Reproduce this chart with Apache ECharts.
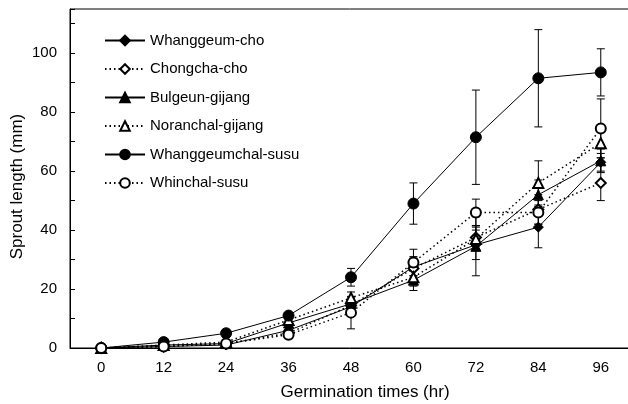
<!DOCTYPE html>
<html>
<head>
<meta charset="utf-8">
<script src="https://cdn.jsdelivr.net/npm/echarts@6/dist/echarts.min.js"></script>
<style>
  html, body { margin: 0; padding: 0; background: #fff; }
  #chart { width: 628px; height: 404px; }
</style>
</head>
<body>
<div id="chart"></div>
<script>
// germination times (hr)
const hours = ['0', '12', '24', '36', '48', '60', '72', '84', '96'];

// sprout length (mm)
const whanggeumCho = [0, 0.5, 1, 6, 14, 27.5, 35, 41, 63];
const chongchaCho = [0, 0.5, 1.5, 5, 14.5, 27, 37.5, 47, 56];
const bulgeunGijang = [0, 1, 1.5, 8.5, 15, 23, 34.5, 52, 63.5];
const noranchalGijang = [0, 1, 2, 9.5, 17, 24, 37, 56, 69.5];
const whanggeumchalSusu = [0, 2, 5, 11, 24, 49, 71.5, 91.5, 93.5];
const whinchalSusu = [0, 0.5, 1.5, 4.5, 12, 29, 46, 46, 74.5];

// error bars (± mm)
const whanggeumChoErr = [0, 0.2, 0.3, 1, 2, 3, 5, 7, 3];
const chongchaChoErr = [0, 0.2, 0.3, 1, 2, 4, 4, 5, 6];
const bulgeunGijangErr = [0, 0.3, 0.5, 1, 2, 3.5, 10, 5, 4];
const noranchalGijangErr = [0, 0.3, 0.5, 1, 2, 3, 4, 7.5, 5];
const whanggeumchalSusuErr = [0, 0.5, 0.5, 1, 3, 7, 16, 16.5, 8];
const whinchalSusuErr = [0, 0.3, 0.4, 1, 5.5, 4.5, 4.5, 4, 10];

const FONT = 'Arial, "Liberation Sans", sans-serif';

const varieties = [
  { name: 'Whanggeum-cho', data: whanggeumCho, err: whanggeumChoErr, symbol: 'diamond', size: 10, dotted: false },
  { name: 'Chongcha-cho', data: chongchaCho, err: chongchaChoErr, symbol: 'emptyDiamond', size: 10, dotted: true },
  { name: 'Bulgeun-gijang', data: bulgeunGijang, err: bulgeunGijangErr, symbol: 'triangle', size: 10, dotted: false },
  { name: 'Noranchal-gijang', data: noranchalGijang, err: noranchalGijangErr, symbol: 'emptyTriangle', size: 10, dotted: true },
  { name: 'Whanggeumchal-susu', data: whanggeumchalSusu, err: whanggeumchalSusuErr, symbol: 'circle', size: 11, dotted: false },
  { name: 'Whinchal-susu', data: whinchalSusu, err: whinchalSusuErr, symbol: 'emptyCircle', size: 10, dotted: true }
];

function errorBar (params, api) {
  const x = api.value(0);
  const lo = api.coord([x, api.value(1)]);
  const hi = api.coord([x, api.value(2)]);
  const half = 4;
  const style = { stroke: '#000', lineWidth: 1 };
  return {
    type: 'group',
    children: [
      { type: 'line', shape: { x1: lo[0], y1: lo[1], x2: hi[0], y2: hi[1] }, style: style },
      { type: 'line', shape: { x1: lo[0] - half, y1: lo[1], x2: lo[0] + half, y2: lo[1] }, style: style },
      { type: 'line', shape: { x1: hi[0] - half, y1: hi[1], x2: hi[0] + half, y2: hi[1] }, style: style }
    ]
  };
}

const series = [];
varieties.forEach(function (v) {
  series.push({
    type: 'custom',
    name: v.name + ' err',
    renderItem: errorBar,
    z: 1,
    silent: true,
    data: v.data.map(function (y, i) { return [i, y - v.err[i], y + v.err[i]]; })
  });
});
varieties.forEach(function (v) {
  series.push({
    type: 'line',
    name: v.name,
    data: v.data,
    symbol: v.symbol,
    symbolSize: v.size,
    z: 3,
    itemStyle: { color: '#000', borderColor: '#000', borderWidth: 1 },
    lineStyle: { color: '#000', width: v.dotted ? 1.5 : 1, type: v.dotted ? [1.5, 3] : 'solid' }
  });
});

const chart = echarts.init(document.getElementById('chart'));
chart.setOption({
  animation: false,
  backgroundColor: '#fff',
  textStyle: { fontFamily: FONT },
  grid: {
    left: 70, right: -4, top: 9, bottom: 56,
    outerBoundsMode: 'none',
    containLabel: false,
    show: true, borderColor: '#000', borderWidth: 1
  },
  legend: {
    data: varieties.map(function (v) { return v.name; }),
    orient: 'vertical',
    left: 99,
    top: 28,
    itemWidth: 40,
    itemHeight: 12,
    itemGap: 13.5,
    textStyle: { fontFamily: FONT, fontSize: 15, color: '#000' }
  },
  xAxis: {
    type: 'category',
    data: hours,
    boundaryGap: true,
    name: 'Germination times (hr)',
    nameLocation: 'middle',
    nameGap: 36,
    nameMoveOverlap: false,
    nameTextStyle: { fontFamily: FONT, fontSize: 17, color: '#000', padding: [0, 0, 0, 28] },
    axisLine: { lineStyle: { color: '#000', width: 1 } },
    axisTick: { inside: true, length: 5, lineStyle: { color: '#000' } },
    axisLabel: { fontFamily: FONT, fontSize: 15, color: '#000', margin: 12 },
    splitLine: { show: false }
  },
  yAxis: {
    type: 'value',
    min: 0,
    max: 115,
    interval: 10,
    name: 'Sprout length (mm)',
    nameLocation: 'middle',
    nameGap: 44,
    nameMoveOverlap: false,
    nameTextStyle: { fontFamily: FONT, fontSize: 17, color: '#000', padding: [0, 16, 0, 0] },
    axisLine: { show: true, lineStyle: { color: '#000', width: 1 } },
    axisTick: { show: true, inside: true, length: 5, lineStyle: { color: '#000' } },
    axisLabel: {
      fontFamily: FONT, fontSize: 15, color: '#000', margin: 13,
      formatter: function (val) { return val % 20 === 0 ? String(val) : ''; }
    },
    splitLine: { show: false }
  },
  series: series
});
</script>
</body>
</html>
